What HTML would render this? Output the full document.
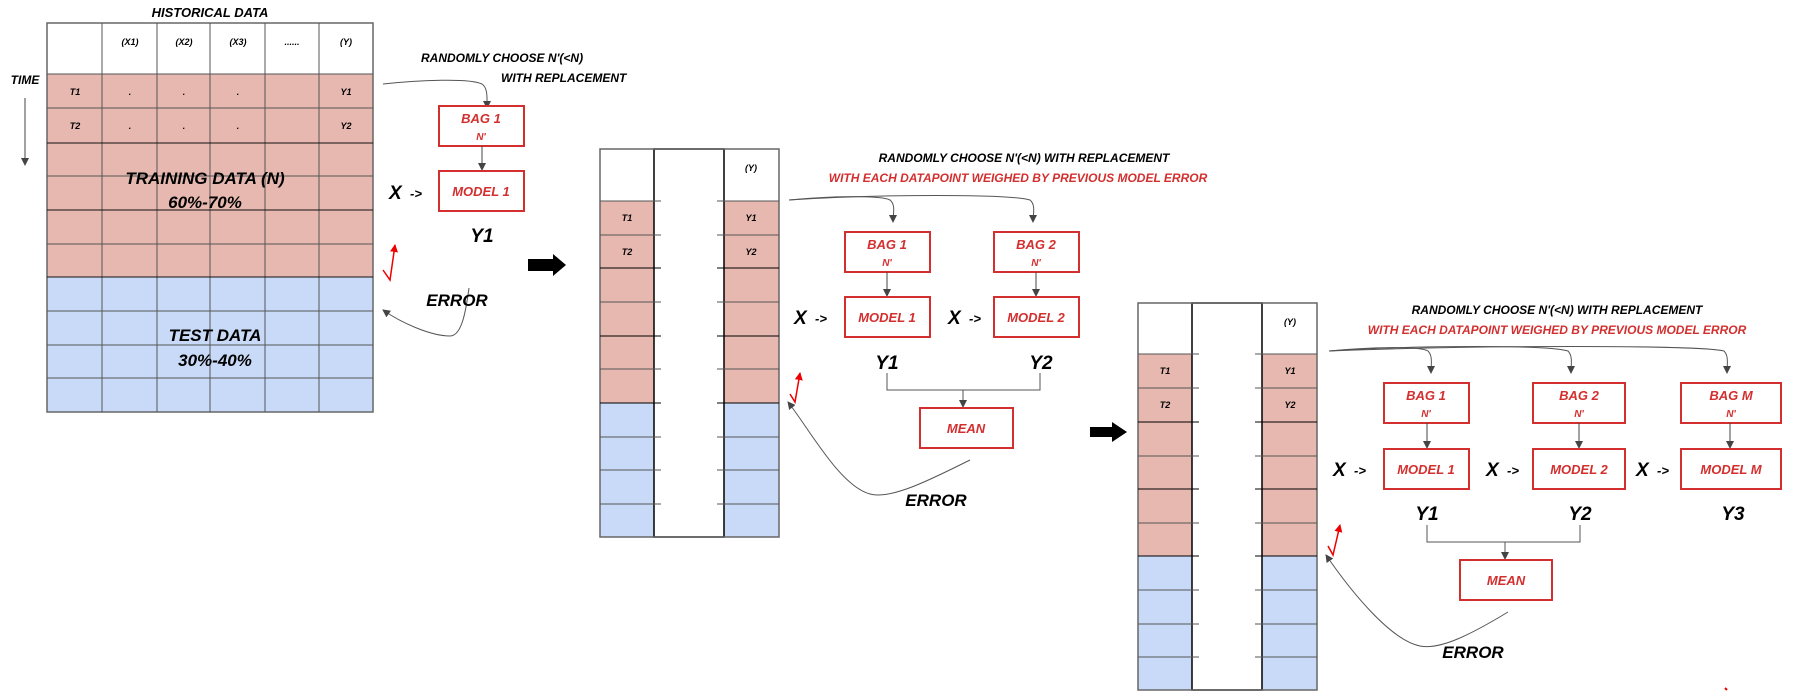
<!DOCTYPE html>
<html><head><meta charset="utf-8"><style>
html,body{margin:0;padding:0;background:#fff;}
svg text{font-family:"Liberation Sans",sans-serif;font-weight:bold;font-style:italic;}
.t{font-size:13px;fill:#000;}
.s{font-size:9px;fill:#000;}
.r{fill:#d32f2f;font-size:13px;}
.b{font-size:17px;fill:#000;}
.big{font-size:19px;fill:#000;}
</style></head><body>
<svg width="1796" height="694" viewBox="0 0 1796 694" xmlns="http://www.w3.org/2000/svg">
<defs>
<marker id="a" markerWidth="8" markerHeight="8" refX="7" refY="4" orient="auto" markerUnits="userSpaceOnUse"><path d="M0,0 L8,4 L0,8 z" fill="#444"/></marker>
<marker id="ar" markerWidth="8" markerHeight="8" refX="7" refY="4" orient="auto" markerUnits="userSpaceOnUse"><path d="M0,0 L8,4 L0,8 z" fill="#e00"/></marker>
</defs>

<!-- TABLE 1 -->
<rect x="47" y="74" width="326" height="203" fill="#e6b8b0"/>
<rect x="47" y="277" width="326" height="135" fill="#c9daf8"/>
<rect x="47" y="23" width="326" height="389" fill="none" stroke="#666" stroke-width="1.5"/>
<g stroke="#555" stroke-width="1">
<line x1="102" y1="23" x2="102" y2="412"/><line x1="157" y1="23" x2="157" y2="412"/><line x1="210" y1="23" x2="210" y2="412"/><line x1="265" y1="23" x2="265" y2="412"/><line x1="319" y1="23" x2="319" y2="412"/>
<line x1="47" y1="74" x2="373" y2="74"/><line x1="47" y1="108" x2="373" y2="108"/><line x1="47" y1="143" x2="373" y2="143" stroke="#111"/><line x1="47" y1="176" x2="373" y2="176"/><line x1="47" y1="210" x2="373" y2="210" stroke="#111"/><line x1="47" y1="244" x2="373" y2="244"/><line x1="47" y1="277" x2="373" y2="277" stroke="#111"/><line x1="47" y1="311" x2="373" y2="311"/><line x1="47" y1="345" x2="373" y2="345"/><line x1="47" y1="378" x2="373" y2="378"/>
</g>
<text class="t" x="210" y="17" text-anchor="middle">HISTORICAL DATA</text>
<g class="s" text-anchor="middle">
<text x="130" y="45">(X1)</text><text x="184" y="45">(X2)</text><text x="238" y="45">(X3)</text><text x="292" y="45">......</text><text x="346" y="45">(Y)</text>
<text x="75" y="95">T1</text><text x="75" y="129">T2</text><text x="346" y="95">Y1</text><text x="346" y="129">Y2</text>
<text x="130" y="95">.</text><text x="184" y="95">.</text><text x="238" y="95">.</text>
<text x="130" y="129">.</text><text x="184" y="129">.</text><text x="238" y="129">.</text>
</g>
<text class="t" x="25" y="84" text-anchor="middle" style="font-size:12px">TIME</text>
<line x1="25" y1="98" x2="25" y2="165" stroke="#444" stroke-width="1" marker-end="url(#a)"/>
<text class="b" x="205" y="184" text-anchor="middle">TRAINING DATA (N)</text>
<text class="b" x="205" y="208" text-anchor="middle">60%-70%</text>
<text class="b" x="215" y="341" text-anchor="middle">TEST DATA</text>
<text class="b" x="215" y="366" text-anchor="middle">30%-40%</text>

<!-- panel 1 diagram -->
<text class="t" x="421" y="62" style="font-size:12px">RANDOMLY CHOOSE N'(&lt;N)</text>
<text class="t" x="501" y="82" style="font-size:12px">WITH REPLACEMENT</text>
<path d="M383,84 C420,80 470,78 482,84 C488,88 487,98 487,108" fill="none" stroke="#555" stroke-width="1" marker-end="url(#a)"/>
<rect x="439" y="106" width="85" height="40" fill="#fff" stroke="#d32f2f" stroke-width="2"/>
<text class="r" x="481" y="123" text-anchor="middle">BAG 1</text><text class="r" x="481" y="140" text-anchor="middle" style="font-size:10px">N'</text>
<line x1="482" y1="146" x2="482" y2="170" stroke="#444" marker-end="url(#a)"/>
<rect x="439" y="171" width="85" height="40" fill="#fff" stroke="#d32f2f" stroke-width="2"/>
<text class="r" x="481" y="196" text-anchor="middle">MODEL 1</text>
<text class="big" x="389" y="199">X</text><text class="t" x="410" y="198">-&gt;</text>
<text class="big" x="482" y="242" text-anchor="middle">Y1</text>
<path d="M383,270 L390,280 L395,245" fill="none" stroke="#e00" stroke-width="1.5" marker-end="url(#ar)"/>
<path d="M469,288 C466,310 462,336 450,336 C430,336 400,322 383,310" fill="none" stroke="#555" stroke-width="1" marker-end="url(#a)"/>
<text class="b" x="457" y="306" text-anchor="middle">ERROR</text>
<path d="M528,259 L553,259 L553,254 L566,265 L553,276 L553,271 L528,271 z" fill="#000"/>

<!-- TABLE 2 -->
<rect x="600" y="201" width="179" height="202" fill="#e6b8b0"/>
<rect x="600" y="403" width="179" height="134" fill="#c9daf8"/>
<rect x="654" y="149" width="70" height="388" fill="#fff" stroke="#000" stroke-width="1.5"/>
<rect x="600" y="149" width="179" height="388" fill="none" stroke="#666" stroke-width="1.5"/>
<g stroke="#555" stroke-width="1">
<line x1="600" y1="201" x2="661" y2="201"/><line x1="717" y1="201" x2="779" y2="201"/>
<line x1="600" y1="235" x2="661" y2="235"/><line x1="717" y1="235" x2="779" y2="235"/>
<line x1="600" y1="268" x2="661" y2="268" stroke="#000"/><line x1="717" y1="268" x2="779" y2="268" stroke="#000"/>
<line x1="600" y1="302" x2="661" y2="302"/><line x1="717" y1="302" x2="779" y2="302"/>
<line x1="600" y1="336" x2="661" y2="336" stroke="#000"/><line x1="717" y1="336" x2="779" y2="336" stroke="#000"/>
<line x1="600" y1="369" x2="661" y2="369"/><line x1="717" y1="369" x2="779" y2="369"/>
<line x1="600" y1="403" x2="661" y2="403" stroke="#000"/><line x1="717" y1="403" x2="779" y2="403" stroke="#000"/>
<line x1="600" y1="437" x2="661" y2="437"/><line x1="717" y1="437" x2="779" y2="437"/>
<line x1="600" y1="470" x2="661" y2="470"/><line x1="717" y1="470" x2="779" y2="470"/>
<line x1="600" y1="504" x2="661" y2="504"/><line x1="717" y1="504" x2="779" y2="504"/>
</g>
<g class="s" text-anchor="middle"><text x="627" y="221">T1</text><text x="627" y="255">T2</text><text x="751" y="221">Y1</text><text x="751" y="255">Y2</text><text x="751" y="171">(Y)</text></g>
<text class="t" x="1024" y="162" text-anchor="middle" style="font-size:12px">RANDOMLY CHOOSE N'(&lt;N) WITH REPLACEMENT</text>
<text class="r" x="1018" y="182" text-anchor="middle" style="font-size:12px">WITH EACH DATAPOINT WEIGHED BY PREVIOUS MODEL ERROR</text>
<path d="M789,200 C830,196 880,195 890,200 C896,205 893,214 893,222" fill="none" stroke="#555" marker-end="url(#a)"/>
<path d="M789,200 C880,194 1010,194 1030,200 C1036,205 1033,214 1033,222" fill="none" stroke="#555" marker-end="url(#a)"/>
<rect x="845" y="232" width="85" height="40" fill="#fff" stroke="#d32f2f" stroke-width="2"/>
<text class="r" x="887" y="249" text-anchor="middle">BAG 1</text><text class="r" x="887" y="266" text-anchor="middle" style="font-size:10px">N'</text>
<rect x="994" y="232" width="85" height="40" fill="#fff" stroke="#d32f2f" stroke-width="2"/>
<text class="r" x="1036" y="249" text-anchor="middle">BAG 2</text><text class="r" x="1036" y="266" text-anchor="middle" style="font-size:10px">N'</text>
<line x1="887" y1="272" x2="887" y2="296" stroke="#444" marker-end="url(#a)"/>
<line x1="1036" y1="272" x2="1036" y2="296" stroke="#444" marker-end="url(#a)"/>
<rect x="845" y="297" width="85" height="40" fill="#fff" stroke="#d32f2f" stroke-width="2"/>
<text class="r" x="887" y="322" text-anchor="middle">MODEL 1</text>
<rect x="994" y="297" width="85" height="40" fill="#fff" stroke="#d32f2f" stroke-width="2"/>
<text class="r" x="1036" y="322" text-anchor="middle">MODEL 2</text>
<text class="big" x="794" y="324">X</text><text class="t" x="815" y="323">-&gt;</text>
<text class="big" x="948" y="324">X</text><text class="t" x="969" y="323">-&gt;</text>
<text class="big" x="887" y="369" text-anchor="middle">Y1</text>
<text class="big" x="1041" y="369" text-anchor="middle">Y2</text>
<path d="M887,373 L887,390 L1040,390 L1040,373 M963,390 L963,407" fill="none" stroke="#555"/>
<line x1="963" y1="390" x2="963" y2="407" stroke="#555" marker-end="url(#a)"/>
<rect x="920" y="408" width="93" height="40" fill="#fff" stroke="#d32f2f" stroke-width="2"/>
<text class="r" x="966" y="433" text-anchor="middle">MEAN</text>
<path d="M790,394 L795,402 L800,373" fill="none" stroke="#e00" stroke-width="1.5" marker-end="url(#ar)"/>
<path d="M970,460 C930,480 890,500 870,494 C840,486 810,430 788,402" fill="none" stroke="#555" marker-end="url(#a)"/>
<text class="b" x="936" y="506" text-anchor="middle">ERROR</text>
<path d="M1090,427 L1112,427 L1112,422 L1127,432 L1112,442 L1112,437 L1090,437 z" fill="#000"/>

<!-- TABLE 3 -->
<rect x="1138" y="354" width="179" height="202" fill="#e6b8b0"/>
<rect x="1138" y="556" width="179" height="134" fill="#c9daf8"/>
<rect x="1192" y="303" width="70" height="387" fill="#fff" stroke="#000" stroke-width="1.5"/>
<rect x="1138" y="303" width="179" height="387" fill="none" stroke="#666" stroke-width="1.5"/>
<g stroke="#555" stroke-width="1">
<line x1="1138" y1="354" x2="1199" y2="354"/><line x1="1255" y1="354" x2="1317" y2="354"/>
<line x1="1138" y1="388" x2="1199" y2="388"/><line x1="1255" y1="388" x2="1317" y2="388"/>
<line x1="1138" y1="422" x2="1199" y2="422" stroke="#000"/><line x1="1255" y1="422" x2="1317" y2="422" stroke="#000"/>
<line x1="1138" y1="456" x2="1199" y2="456"/><line x1="1255" y1="456" x2="1317" y2="456"/>
<line x1="1138" y1="489" x2="1199" y2="489" stroke="#000"/><line x1="1255" y1="489" x2="1317" y2="489" stroke="#000"/>
<line x1="1138" y1="523" x2="1199" y2="523"/><line x1="1255" y1="523" x2="1317" y2="523"/>
<line x1="1138" y1="556" x2="1199" y2="556" stroke="#000"/><line x1="1255" y1="556" x2="1317" y2="556" stroke="#000"/>
<line x1="1138" y1="590" x2="1199" y2="590"/><line x1="1255" y1="590" x2="1317" y2="590"/>
<line x1="1138" y1="624" x2="1199" y2="624"/><line x1="1255" y1="624" x2="1317" y2="624"/>
<line x1="1138" y1="657" x2="1199" y2="657"/><line x1="1255" y1="657" x2="1317" y2="657"/>
</g>
<g class="s" text-anchor="middle"><text x="1165" y="374">T1</text><text x="1165" y="408">T2</text><text x="1290" y="374">Y1</text><text x="1290" y="408">Y2</text><text x="1290" y="325">(Y)</text></g>
<text class="t" x="1557" y="314" text-anchor="middle" style="font-size:12px">RANDOMLY CHOOSE N'(&lt;N) WITH REPLACEMENT</text>
<text class="r" x="1557" y="334" text-anchor="middle" style="font-size:12px">WITH EACH DATAPOINT WEIGHED BY PREVIOUS MODEL ERROR</text>
<path d="M1329,351 C1370,347 1420,346 1428,351 C1433,356 1431,365 1431,373" fill="none" stroke="#555" marker-end="url(#a)"/>
<path d="M1329,351 C1420,345 1550,345 1568,351 C1573,356 1571,365 1571,373" fill="none" stroke="#555" marker-end="url(#a)"/>
<path d="M1329,351 C1480,345 1700,345 1724,351 C1729,356 1727,365 1727,373" fill="none" stroke="#555" marker-end="url(#a)"/>
<rect x="1384" y="383" width="85" height="40" fill="#fff" stroke="#d32f2f" stroke-width="2"/>
<text class="r" x="1426" y="400" text-anchor="middle">BAG 1</text><text class="r" x="1426" y="417" text-anchor="middle" style="font-size:10px">N'</text>
<rect x="1533" y="383" width="92" height="40" fill="#fff" stroke="#d32f2f" stroke-width="2"/>
<text class="r" x="1579" y="400" text-anchor="middle">BAG 2</text><text class="r" x="1579" y="417" text-anchor="middle" style="font-size:10px">N'</text>
<rect x="1681" y="383" width="100" height="40" fill="#fff" stroke="#d32f2f" stroke-width="2"/>
<text class="r" x="1731" y="400" text-anchor="middle">BAG M</text><text class="r" x="1731" y="417" text-anchor="middle" style="font-size:10px">N'</text>
<line x1="1427" y1="423" x2="1427" y2="448" stroke="#444" marker-end="url(#a)"/>
<line x1="1579" y1="423" x2="1579" y2="448" stroke="#444" marker-end="url(#a)"/>
<line x1="1730" y1="423" x2="1730" y2="448" stroke="#444" marker-end="url(#a)"/>
<rect x="1384" y="449" width="85" height="40" fill="#fff" stroke="#d32f2f" stroke-width="2"/>
<text class="r" x="1426" y="474" text-anchor="middle">MODEL 1</text>
<rect x="1533" y="449" width="92" height="40" fill="#fff" stroke="#d32f2f" stroke-width="2"/>
<text class="r" x="1579" y="474" text-anchor="middle">MODEL 2</text>
<rect x="1681" y="449" width="100" height="40" fill="#fff" stroke="#d32f2f" stroke-width="2"/>
<text class="r" x="1731" y="474" text-anchor="middle">MODEL M</text>
<text class="big" x="1333" y="476">X</text><text class="t" x="1354" y="475">-&gt;</text>
<text class="big" x="1486" y="476">X</text><text class="t" x="1507" y="475">-&gt;</text>
<text class="big" x="1636" y="476">X</text><text class="t" x="1657" y="475">-&gt;</text>
<text class="big" x="1427" y="520" text-anchor="middle">Y1</text>
<text class="big" x="1580" y="520" text-anchor="middle">Y2</text>
<text class="big" x="1733" y="520" text-anchor="middle">Y3</text>
<path d="M1427,525 L1427,542 L1580,542 L1580,525" fill="none" stroke="#555"/>
<line x1="1505" y1="542" x2="1505" y2="559" stroke="#555" marker-end="url(#a)"/>
<rect x="1460" y="560" width="92" height="40" fill="#fff" stroke="#d32f2f" stroke-width="2"/>
<text class="r" x="1506" y="585" text-anchor="middle">MEAN</text>
<path d="M1328,546 L1333,555 L1340,525" fill="none" stroke="#e00" stroke-width="1.5" marker-end="url(#ar)"/>
<path d="M1508,612 C1470,635 1440,650 1420,646 C1390,640 1350,590 1326,555" fill="none" stroke="#555" marker-end="url(#a)"/>
<text class="b" x="1473" y="658" text-anchor="middle">ERROR</text>
<line x1="1725" y1="688" x2="1727" y2="690" stroke="#e00" stroke-width="2"/>
</svg>
</body></html>
